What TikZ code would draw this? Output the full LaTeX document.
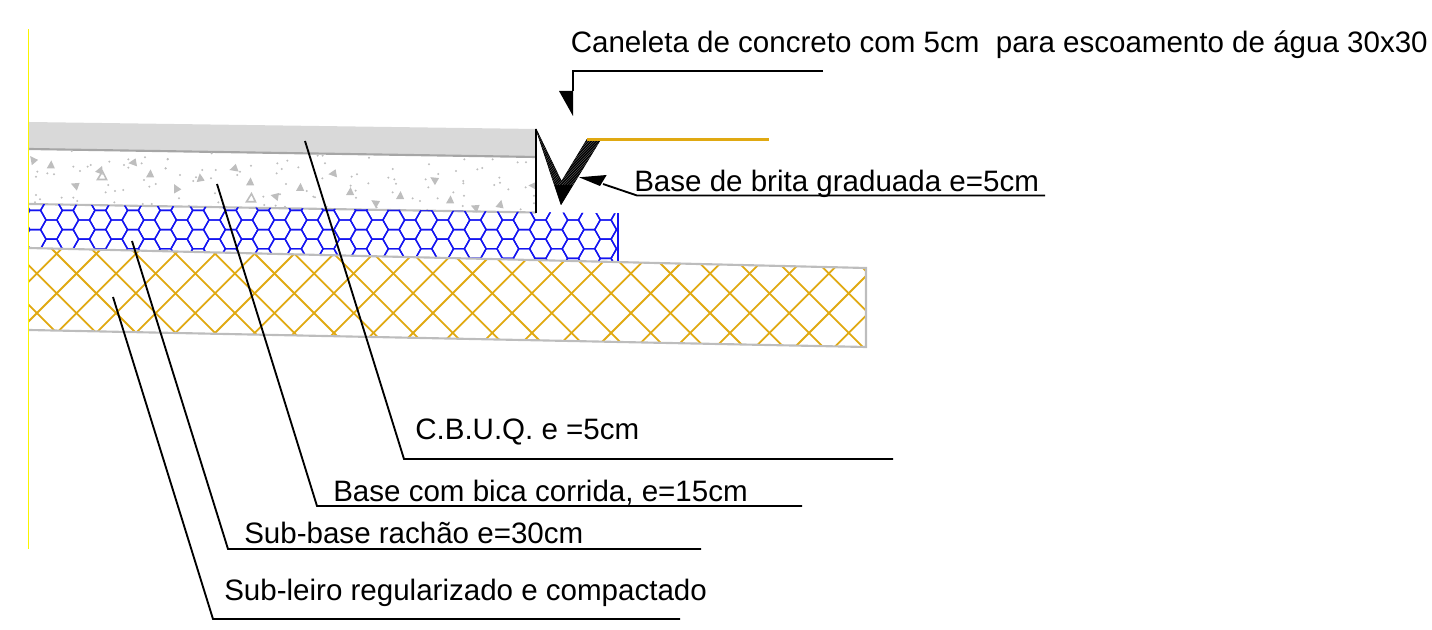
\documentclass[tikz,border=0pt]{standalone}
\usepackage{fontspec}
\setmainfont{Liberation Sans}
\definecolor{asph}{HTML}{D9D9D9}
\definecolor{edge}{HTML}{BDBDBD}
\definecolor{edged}{HTML}{A6A6A6}
\definecolor{speck}{HTML}{BEBEBE}
\definecolor{gold}{HTML}{E0A912}
\definecolor{hexblue}{HTML}{1414F0}
\definecolor{axisy}{HTML}{FAF500}
\tikzset{
  lbl/.style={anchor=base west,inner sep=0pt,font=\fontsize{22.15}{25}\selectfont,text=black},
  leader/.style={draw=black,line width=1.4pt,line join=miter},
  boundary/.style={draw=edge,line width=1.6pt},
  hexline/.style={draw=hexblue,line width=1.05pt},
  hatchline/.style={draw=gold,line width=1.35pt},
  speckdot/.style={fill=speck},
  tip/.style={fill=black,draw=none}
}
\begin{document}
\begin{tikzpicture}[x=0.75pt,y=-0.75pt]
\useasboundingbox (0,0) rectangle (1432,630);
% layer corners
\coordinate (a1) at (29,122); \coordinate (a2) at (536,129);
\coordinate (b1) at (29,149); \coordinate (b2) at (536,157);
\coordinate (c1) at (29,204); \coordinate (c2) at (536,212.5);
\coordinate (c3) at (618,213.5);
\coordinate (d1) at (29,248); \coordinate (d2) at (618,261.7); \coordinate (d3) at (866,268);
\coordinate (e1) at (29,330); \coordinate (e2) at (866,347);
% asphalt
\fill[asph] (a1) -- (a2) -- (b2) -- (b1) -- cycle;
\draw[draw=edged,line width=1.6pt] (b1) -- (b2);
% concrete speckle
\foreach \x/\y in {155/18,52/80,48/95,82/85,102/88,160/65,180/78,203/65,212/60,268/50,325/43,312/60,325/68,365/55,375/37,443/43,437/70,372/105,388/125,407/117,265/120,257/142,285/138,310/135,48/150,60/163,125/158,160/158,172/168,283/172,368/177,395/177,45/172}
  \fill[speckdot] ({20+\x/3},{145+\y/3}) circle (1.15);
\foreach \x/\y in {8/42,2/70,140/25,45/90,112/75,152/75,93/97,85/108,138/100,225/80,217/90,258/62,337/55,367/47,350/72,335/85,400/67,363/117,150/145,42/160,160/172,72/182,295/155,345/148,298/180,332/182,360/185,425/138,445/155}
  \fill[speckdot] ({165+\x/3},{145+\y/3}) circle (1.15);
\foreach \x/\y in {23/32,38/32,177/38,45/55,37/100,125/95,141/88,122/122,137/137,175/115,138/158,15/157,50/185,248/72,235/98,253/103,258/116,248/142,308/160,330/168,357/58,347/103,385/87,355/127,383/160,438/78,502/73,517/69,463/43,548/43,623/52,648/52,460/108,460/115,430/142,462/152,458/183,568/98,570/113,553/120,595/133,647/127,672/152,672/175,632/193,352/195,200/187}
  \fill[speckdot] ({310+\x/3},{145+\y/3}) circle (1.15);
\foreach \x/\y/\r in {32.7/160/40,50.7/165/0,100/170/-20,150/174/0,133/163/100,75/185.7/70,
  176/188.5/30,200/178/10,234/169/110,250/182/0,275/196.5/80,300/187.5/0,
  333/174/100,350/191.7/0,375/203/60,400/195.7/0,434/180/60,450/200/0,475/207.7/70,500/204.3/-10,533/186/90}
  \fill[speck,shift={(\x,\y)},rotate=\r] (-4,3.4) -- (4.2,3.4) -- (0.6,-4.6) -- cycle;
\foreach \x/\y in {102/175.7,251/198}
  \draw[speck,line width=1.2pt,shift={(\x,\y)}] (-4.5,3.8) -- (4.5,3.8) -- (0.5,-4.4) -- cycle;
\draw[boundary] (c1) -- (c2);
% hexagons
\begin{scope}
\clip (c1) -- (c3) -- (d2) -- (d1) -- cycle;
\foreach \k in {-2,...,18}
  \foreach \j in {-2,...,3}
  {
    \draw[hexline,shift={({51.45+32.6*\k},{229.6+19.2*\j})}]
      (-10.87,0) -- (-5.43,-9.6) -- (5.43,-9.6) -- (10.87,0) -- (5.43,9.6) -- (-5.43,9.6) -- cycle;
    \draw[hexline,shift={({67.75+32.6*\k},{239.2+19.2*\j})}]
      (-10.87,0) -- (-5.43,-9.6) -- (5.43,-9.6) -- (10.87,0) -- (5.43,9.6) -- (-5.43,9.6) -- cycle;
  }
\end{scope}
\draw[hexline,line width=1.5pt] (c3) -- (d2);
% cross hatch
\begin{scope}
\clip (d1) -- (d3) -- (e2) -- (e1) -- cycle;
\foreach \k in {-2,...,26}
{
  \draw[hatchline] ({350+39.6*\k-200},200) -- ({350+39.6*\k-400},400);
  \draw[hatchline] ({-236.6+39.6*\k+200},200) -- ({-236.6+39.6*\k+400},400);
}
\foreach \k in {27,...,30}
  \draw[hatchline] ({350+39.6*\k-200},200) -- ({350+39.6*\k-400},400);
\end{scope}
\draw[boundary] (d1) -- (d3) -- (e2) -- (e1);
% left axis
\coordinate (y1) at (28.5,29); \coordinate (y2) at (28.5,549);
\draw[draw=axisy,line width=1.4pt] (y1) -- (y2);
% channel
\coordinate (v1) at (536,129); \coordinate (v2) at (561,204.5);
\coordinate (v3) at (600.5,139.5); \coordinate (v4) at (587,139.5); \coordinate (v5) at (561.5,181.7);
\coordinate (g2) at (769,139.5);
\draw[draw=black,fill=black,line width=0.6pt,line join=round] (v1) -- (v2) -- (v3) -- (v4) -- (v5) -- cycle;
\begin{scope}
\clip (v1) -- (v2) -- (v3) -- (v4) -- (v5) -- cycle;
\foreach \k in {0,...,40}
  \draw[draw=white!42!black,line width=0.25pt] ({536+2.6*\k},125) -- ++(-60,60);
\end{scope}
\draw[draw=gold,line width=1.6pt] (v4) -- (g2);
\draw[leader,line width=1.7pt] (v1) -- (536,213);
% leaders
\coordinate (l1a) at (823,71); \coordinate (l1b) at (573,71); \coordinate (l1c) at (573,116); \coordinate (l1d) at (559,91); \coordinate (l1e) at (573,91);
\draw[leader] (l1a) -- (l1b) -- (l1e);
\fill[tip] (l1d) -- (l1e) -- (l1c) -- cycle;
\coordinate (l2a) at (1045,195.5); \coordinate (l2b) at (637,195.5); \coordinate (l2c) at (603,184);
\coordinate (l2t) at (579,177.3); \coordinate (l2d) at (606.7,175); \coordinate (l2e) at (600,186);
\draw[leader] (l2a) -- (l2b) -- (l2c);
\fill[tip] (l2t) -- (l2d) -- (l2e) -- cycle;
\coordinate (l3a) at (893,459); \coordinate (l3b) at (404,459); \coordinate (l3c) at (305,141);
\draw[leader] (l3a) -- (l3b) -- (l3c);
\coordinate (l4a) at (802,506); \coordinate (l4b) at (317,506); \coordinate (l4c) at (217,184);
\draw[leader] (l4a) -- (l4b) -- (l4c);
\coordinate (l5a) at (701,549); \coordinate (l5b) at (228,549); \coordinate (l5c) at (132,241);
\draw[leader] (l5a) -- (l5b) -- (l5c);
\coordinate (l6a) at (680,619); \coordinate (l6b) at (213,619); \coordinate (l6c) at (113,297);
\draw[leader] (l6a) -- (l6b) -- (l6c);
% labels
\node[lbl] (t1) at (570.5,53) {Caneleta de concreto com 5cm\ \ para escoamento de água 30x30};
\node[lbl] (t2) at (634,192) {Base de brita graduada e=5cm};
\node[lbl] (t3) at (415,440) {C.B.U.Q. e =5cm};
\node[lbl] (t4) at (333,502) {Base com bica corrida, e=15cm};
\node[lbl] (t5) at (244,544) {Sub-base rachão e=30cm};
\node[lbl] (t6) at (224,600) {Sub-leiro regularizado e compactado};
\end{tikzpicture}
\end{document}
